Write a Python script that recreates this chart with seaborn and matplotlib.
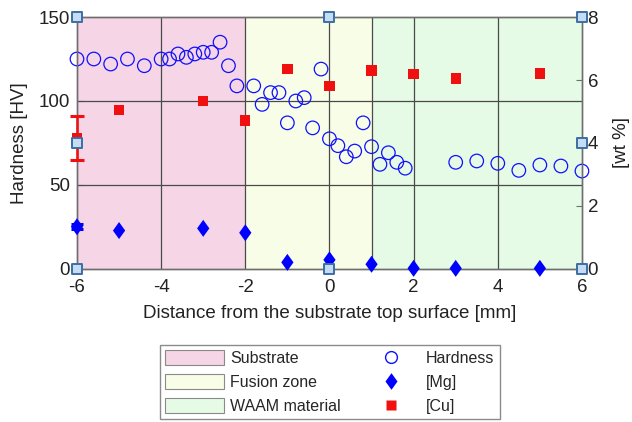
import numpy as np
import pandas as pd
import matplotlib
matplotlib.use("Agg")
import matplotlib.pyplot as plt
import seaborn as sns
from matplotlib.patches import Patch
from matplotlib.lines import Line2D

# ---- data ----
hard_x = [-6.0, -5.6, -5.2, -4.8, -4.4, -4.0, -3.8, -3.6, -3.4, -3.2, -3.0, -2.8, -2.6,
          -2.4, -2.2, -1.8, -1.6, -1.4, -1.2, -1.0, -0.8, -0.6, -0.4, -0.2, 0.0, 0.2,
          0.4, 0.6, 0.8, 1.0, 1.2, 1.4, 1.6, 1.8, 3.0, 3.5, 4.0, 4.5, 5.0, 5.5, 6.0]
hard_y = [125, 125, 122, 125, 121, 125, 125, 128, 126, 128, 129, 129, 135,
          121, 109, 109, 98, 105, 105, 87, 100, 102, 84, 119, 77.5, 73.4,
          66.8, 70.2, 87, 72.8, 62.3, 69.2, 63.5, 60, 63.5, 64.3, 62.9, 58.7, 61.9, 61.3, 58.3]

cu_x = [-6, -5, -3, -2, -1, 0, 1, 2, 3, 5]
cu_y = [4.15, 5.05, 5.34, 4.71, 6.34, 5.82, 6.30, 6.19, 6.05, 6.21]
cu_err = [0.7, 0, 0, 0, 0, 0, 0, 0, 0, 0]

mg_x = [-6, -5, -3, -2, -1, 0, 1, 2, 3, 5]
mg_y = [1.34, 1.22, 1.29, 1.15, 0.21, 0.29, 0.15, 0.02, 0.02, 0.02]
mg_err = [0.08, 0, 0, 0, 0, 0, 0, 0, 0, 0]

box_x = [-6, -6, -6, 0, 0, 6, 6, 6]
box_y = [0, 75, 150, 0, 150, 0, 75, 150]

zone_names = ["Substrate", "Fusion zone", "WAAM material"]
zone_start = [-6, -2, 1]
zone_end = [-2, 1, 6]
zone_colors = ["#f5d5e6", "#f8fde7", "#e5fbe6"]

x_ticks = [-6, -4, -2, 0, 2, 4, 6]
hv_ticks = [0, 50, 100, 150]
wt_ticks = [0, 2, 4, 6, 8]

# ---- style ----
sns.set_style("white")
plt.rcParams["font.family"] = ["Liberation Sans", "DejaVu Sans"]
plt.rcParams["axes.unicode_minus"] = False

diamond = [(0, 1), (0.72, 0), (0, -1), (-0.72, 0), (0, 1)]

fig = plt.figure(figsize=(6.32, 4.22), dpi=100)
rect = [0.1218, 0.3626, 0.7990, 0.5971]
ax = fig.add_axes(rect)
ax2 = ax.twinx()

for s, e, c in zip(zone_start, zone_end, zone_colors):
    ax.axvspan(s, e, color=c, zorder=0, lw=0)

ax.set_xlim(-6, 6)
ax.set_ylim(0, 150)
ax2.set_ylim(0, 8)
ax.set_xticks(x_ticks)
ax.set_yticks(hv_ticks)
ax2.set_yticks(wt_ticks)

grid_c = "#4a4a4a"
for xv in x_ticks[1:-1]:
    ax.axvline(xv, color=grid_c, lw=0.9, zorder=1)
ax.axvline(1, color=grid_c, lw=0.9, zorder=1)
for yv in hv_ticks[1:-1]:
    ax.axhline(yv, color=grid_c, lw=0.9, zorder=1)

df_h = pd.DataFrame({"x": hard_x, "y": hard_y})
sns.scatterplot(data=df_h, x="x", y="y", ax=ax, marker="o", s=95,
                facecolor="none", edgecolor="#1010ff", linewidth=0.9, zorder=3,
                clip_on=False)

df_cu = pd.DataFrame({"x": cu_x, "y": cu_y})
df_mg = pd.DataFrame({"x": mg_x, "y": mg_y})
ax2.errorbar(cu_x[:1], cu_y[:1], yerr=cu_err[:1], fmt="none", ecolor="#f01010",
             elinewidth=1.8, capsize=5, capthick=2.2, zorder=3, clip_on=False)
ax2.errorbar(mg_x[:1], mg_y[:1], yerr=mg_err[:1], fmt="none", ecolor="#0000ff",
             elinewidth=1.8, capsize=4, capthick=2.2, zorder=3, clip_on=False)
sns.scatterplot(data=df_cu, x="x", y="y", ax=ax2, marker="s", s=55,
                color="#f01010", edgecolor="none", zorder=4, clip_on=False)
sns.scatterplot(data=df_mg, x="x", y="y", ax=ax2, marker=diamond, s=150,
                color="#0000ff", edgecolor="none", zorder=4, clip_on=False)

# overlay axes for the small square frame markers
ax_top = fig.add_axes(rect, sharex=ax)
ax_top.patch.set_visible(False)
ax_top.set_ylim(0, 150)
df_b = pd.DataFrame({"x": box_x, "y": box_y})
sns.scatterplot(data=df_b, x="x", y="y", ax=ax_top, marker="s", s=60,
                facecolor="#c5dcf2", edgecolor="#3b6fa3", linewidth=1.4,
                zorder=6, clip_on=False)
ax_top.axis("off")

ax.set_xlabel("Distance from the substrate top surface [mm]", fontsize=13.5,
              color="#222222", labelpad=7)
ax.set_ylabel("Hardness [HV]", fontsize=13.5, color="#222222", labelpad=8)
ax2.set_ylabel("[wt %]", fontsize=13.5, color="#222222", labelpad=11)
ax2.set_xlabel("")

for a in (ax, ax2):
    for sp in a.spines.values():
        sp.set_color("#6e6e6e")
        sp.set_linewidth(1.0)
ax.tick_params(axis="y", direction="in", length=4, labelsize=13.5,
               colors="#6e6e6e", labelcolor="#222222", pad=5)
ax.tick_params(axis="x", direction="in", length=4, labelsize=13.5,
               colors="#6e6e6e", labelcolor="#222222", pad=7)
ax2.tick_params(axis="y", direction="in", length=4, labelsize=13.5,
                colors="#6e6e6e", labelcolor="#222222", pad=4)

handles = [Patch(facecolor=c, edgecolor="#8a8a8a", lw=0.8) for c in zone_colors]
handles += [
    Line2D([], [], ls="none", marker="o", markersize=8.5, mfc="none", mec="#1010ff", mew=1.0),
    Line2D([], [], ls="none", marker=diamond, markersize=12, color="#0000ff", mec="none"),
    Line2D([], [], ls="none", marker="s", markersize=6.5, color="#f01010", mec="none"),
]
labels = zone_names + ["Hardness", "[Mg]", "[Cu]"]
leg = fig.legend(handles, labels, ncol=2, loc="lower center",
                 bbox_to_anchor=(0.522, 0.006), fontsize=11.5, frameon=True,
                 fancybox=False, edgecolor="#6e6e6e", handlelength=3.7,
                 handleheight=1.0, handletextpad=0.35, columnspacing=1.3,
                 labelspacing=0.52, borderpad=0.35, borderaxespad=0)
leg.get_frame().set_linewidth(1.0)

fig.savefig("out.png", dpi=100)
